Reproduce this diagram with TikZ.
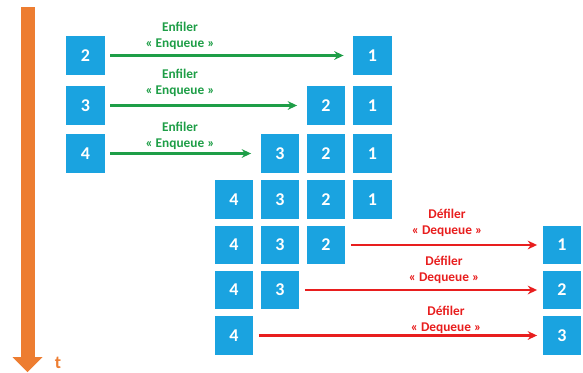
\documentclass[tikz,border=0pt]{standalone}
\usepackage{fontspec}
\setmainfont{Carlito}
\usetikzlibrary{arrows.meta}
\definecolor{qblue}{HTML}{1AA3E0}
\definecolor{qgreen}{HTML}{1E9E47}
\definecolor{qred}{HTML}{E81E1E}
\definecolor{qorange}{HTML}{ED7D31}
\begin{document}
\begin{tikzpicture}[x=0.75pt,y=-0.75pt,
  qbox/.style={fill=qblue,minimum size=29pt,inner sep=0pt,text=white,font=\bfseries\fontsize{13.5}{15}\selectfont},
  enq/.style={draw=qgreen,line width=1.8pt,-{Stealth[length=7pt,width=6.5pt]},shorten <=4pt,shorten >=7pt},
  deq/.style={draw=qred,line width=1.8pt,-{Stealth[length=7pt,width=6.5pt]},shorten <=4pt,shorten >=4pt},
  glab/.style={text=qgreen,align=center,font=\bfseries\fontsize{10}{12}\selectfont,inner sep=0pt},
  rlab/.style={text=qred,align=center,font=\bfseries\fontsize{10}{12}\selectfont,inner sep=0pt}]
\useasboundingbox (0,0) rectangle (583,372);
% time axis
\fill[qorange] (20.5,7) rectangle (34.5,358);
\fill[qorange] (12.5,357) -- (42.5,357) -- (27.5,372) -- cycle;
\node[text=qorange,font=\bfseries\fontsize{13.5}{15}\selectfont,anchor=base] (t) at (58,368) {t};
% row 1
\node[qbox] (a2) at (85.5,55.5) {2};
\node[qbox] (a1) at (372.5,55.5) {1};
\draw[enq] (a2.east) -- (a1.west);
\node[glab] (la) at (180,36) {Enfiler\\« Enqueue »};
% row 2
\node[qbox] (b3) at (85.5,105.5) {3};
\node[qbox] (b2) at (326,105.5) {2};
\node[qbox] (b1) at (372.5,105.5) {1};
\draw[enq] (b3.east) -- (b2.west);
\node[glab] (lb) at (180,83) {Enfiler\\« Enqueue »};
% row 3
\node[qbox] (c4) at (85.5,153.5) {4};
\node[qbox] (c3) at (280,153.5) {3};
\node[qbox] (c2) at (326,153.5) {2};
\node[qbox] (c1) at (372.5,153.5) {1};
\draw[enq] (c4.east) -- (c3.west);
\node[glab] (lc) at (180,136) {Enfiler\\« Enqueue »};
% row 4
\node[qbox] (d4) at (234,199.5) {4};
\node[qbox] (d3) at (280,199.5) {3};
\node[qbox] (d2) at (326,199.5) {2};
\node[qbox] (d1) at (372.5,199.5) {1};
% row 5
\node[qbox] (e4) at (234,245) {4};
\node[qbox] (e3) at (280,245) {3};
\node[qbox] (e2) at (326,245) {2};
\node[qbox] (e1) at (562,245) {1};
\draw[deq] (e2.east) -- (e1.west);
\node[rlab] (le) at (447,223) {Défiler\\« Dequeue »};
% row 6
\node[qbox] (f4) at (234,290) {4};
\node[qbox] (f3) at (280,290) {3};
\node[qbox] (f2) at (562,290) {2};
\draw[deq] (f3.east) -- (f2.west);
\node[rlab] (lf) at (444,270) {Défiler\\« Dequeue »};
% row 7
\node[qbox] (g4) at (234,335.5) {4};
\node[qbox] (g3) at (562,335.5) {3};
\draw[deq] (g4.east) -- (g3.west);
\node[rlab] (lg) at (446,319.5) {Défiler\\« Dequeue »};
\end{tikzpicture}
\end{document}
